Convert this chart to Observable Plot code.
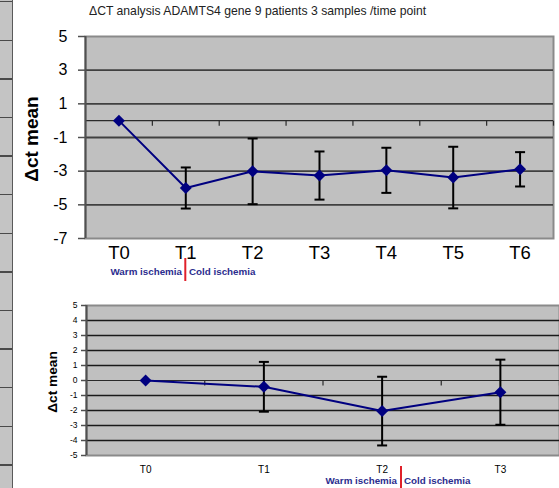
<!DOCTYPE html>
<html>
<head>
<meta charset="utf-8">
<script src="https://cdn.jsdelivr.net/npm/d3@7"></script>
<script src="https://cdn.jsdelivr.net/npm/@observablehq/plot@0.6"></script>
<style>
  html, body { margin: 0; padding: 0; background: #fff; }
  #wrap { position: relative; width: 559px; height: 488px; overflow: hidden; font-family: "Liberation Sans", Arial, sans-serif; }
  #strip { position: absolute; left: 0; top: 0; width: 12px; height: 488px;
    background: repeating-linear-gradient(to bottom, #4a4a4a 0px, #4a4a4a 1.5px, #c4c4c4 1.5px, #c4c4c4 38.6px);
    background-position: 0 1px; border-right: 1.5px solid #5a5a5a; }
  .chart { position: absolute; left: 0; }
  #overlay { position: absolute; left: 0; top: 0; }
</style>
</head>
<body>
<div id="wrap">
  <div id="strip"></div>
</div>
<script>
// ---- data: top chart (7 time points) ----
const catsA   = ["T0", "T1", "T2", "T3", "T4", "T5", "T6"];
const meanA   = [0, -4.0, -3.01, -3.26, -2.95, -3.38, -2.89];
const errA    = [null, 1.22, 1.95, 1.43, 1.34, 1.83, 1.02];
const yTicksA = [5, 3, 1, -1, -3, -5, -7];
const gridA   = [3, 1, -1, -3, -5];

// ---- data: bottom chart (4 time points) ----
const catsB   = ["T0", "T1", "T2", "T3"];
const meanB   = [0, -0.42, -2.04, -0.78];
const errB    = [null, 1.66, 2.29, 2.17];
const yTicksB = [5, 4, 3, 2, 1, 0, -1, -2, -3, -4, -5];
const gridB   = [4, 3, 2, 1, -1, -2, -3, -4];

const titleText = "ΔCT analysis ADAMTS4 gene 9 patients 3 samples /time point";
const yLabel = "Δct mean";
const warmLabel = "Warm ischemia";
const coldLabel = "Cold ischemia";

const vTick = { draw(ctx) { ctx.moveTo(0, 0); ctx.lineTo(0, 5); } };
const hCap  = { draw(ctx) { ctx.moveTo(-5, 0); ctx.lineTo(5, 0); } };

function chart(o) {
  const rows = o.cats.map((c, i) => ({ i, m: o.mean[i], e: o.err[i] }));
  const bars = rows.filter(d => d.e != null);
  const caps = bars.flatMap(d => [{ i: d.i, y: d.m + d.e }, { i: d.i, y: d.m - d.e }]);
  const bounds = o.cats.map((c, i) => i + 0.5);
  return Plot.plot({
    width: 559, height: o.height,
    marginTop: o.mt, marginBottom: o.mb, marginLeft: o.ml, marginRight: o.mr,
    style: { background: "transparent", fontFamily: "Liberation Sans, Arial, sans-serif", color: "#000" },
    x: { type: "linear", domain: [-0.5, o.cats.length - 0.5], axis: null, label: null },
    y: { domain: o.yDomain, axis: null, label: null },
    marks: [
      Plot.frame({ fill: "#c0c0c0", stroke: "#8a8a8a", strokeWidth: 2 }),
      Plot.gridY(o.grid, { stroke: o.gridStroke, strokeOpacity: 1, strokeWidth: o.gridWidth }),
      Plot.ruleY([0], { stroke: "#2a2a2a", strokeWidth: 1.2 }),
      Plot.dot(bounds, { x: d => d, y: 0, symbol: vTick, stroke: "#2a2a2a", strokeWidth: 1.2, fill: "none" }),
      Plot.ruleX([-0.5], { stroke: "#505050", strokeWidth: 2 }),
      Plot.axisY(o.yTicks, { label: null, tickSize: o.yTickSize, tickPadding: o.yPad, fontSize: o.yFont, tickFormat: d => String(d), stroke: "#505050", strokeWidth: 1.5, fill: "#000" }),
      Plot.axisX(o.cats.map((c, i) => i), { label: null, tickSize: 0, tickPadding: o.xPad, fontSize: o.xFont, tickFormat: i => o.cats[i], fill: "#000" }),
      Plot.ruleX(bars, { x: "i", y1: d => d.m - d.e, y2: d => d.m + d.e, stroke: "#000", strokeWidth: 2 }),
      Plot.dot(caps, { x: "i", y: "y", symbol: hCap, stroke: "#000", strokeWidth: 2, fill: "none" }),
      Plot.line(rows, { x: "i", y: "m", stroke: "#000080", strokeWidth: 2 }),
      Plot.dot(rows, { x: "i", y: "m", symbol: "diamond2", fill: "#000080", r: 5.4 })
    ]
  });
}

const wrap = document.getElementById("wrap");

const top1 = chart({
  cats: catsA, mean: meanA, err: errA, yDomain: [-7, 5], yTicks: yTicksA, grid: gridA,
  height: 290, mt: 36, mb: 52, ml: 85, mr: 6,
  yFont: 16, yTickSize: 7, yPad: 11, xFont: 18.5, xPad: 7,
  gridStroke: "#404040", gridWidth: 1.8
});
top1.classList.add("chart");
top1.style.top = "0px";
wrap.appendChild(top1);

const bot = chart({
  cats: catsB, mean: meanB, err: errB, yDomain: [-5, 5], yTicks: yTicksB, grid: gridB,
  height: 198, mt: 15, mb: 33, ml: 86, mr: 0,
  yFont: 8.5, yTickSize: 5, yPad: 4, xFont: 10, xPad: 10,
  gridStroke: "#1a1a1a", gridWidth: 1.5
});
bot.classList.add("chart");
bot.style.top = "290px";
wrap.appendChild(bot);

// text overlays (title, axis titles, ischemia annotations)
const ns = "http://www.w3.org/2000/svg";
const ov = document.createElementNS(ns, "svg");
ov.setAttribute("id", "overlay");
ov.setAttribute("width", 559);
ov.setAttribute("height", 488);
ov.style.fontFamily = "Liberation Sans, Arial, sans-serif";
function addText(str, attrs) {
  const t = document.createElementNS(ns, "text");
  for (const k in attrs) t.setAttribute(k, attrs[k]);
  t.textContent = str;
  ov.appendChild(t);
}
function addLine(attrs) {
  const l = document.createElementNS(ns, "line");
  for (const k in attrs) l.setAttribute(k, attrs[k]);
  ov.appendChild(l);
}
addText(titleText, { x: 89, y: 15, "font-size": 12.2, fill: "#222" });
addText(yLabel, { transform: "translate(38,139) rotate(-90)", "text-anchor": "middle", "font-size": 19, "font-weight": "bold", fill: "#000" });
addText(yLabel, { transform: "translate(57,382) rotate(-90)", "text-anchor": "middle", "font-size": 13.7, "font-weight": "bold", fill: "#000" });

const annColor = "#2b2d8e";
addText(warmLabel, { x: 182, y: 275, "text-anchor": "end", "font-size": 9.8, "font-weight": "bold", fill: annColor });
addText(coldLabel, { x: 189, y: 275, "font-size": 9.8, "font-weight": "bold", fill: annColor });
addLine({ x1: 185.3, x2: 185.3, y1: 258, y2: 281, stroke: "#e0202a", "stroke-width": 2 });

addText(warmLabel, { x: 397, y: 484, "text-anchor": "end", "font-size": 9.8, "font-weight": "bold", fill: annColor });
addText(coldLabel, { x: 404, y: 484, "font-size": 9.8, "font-weight": "bold", fill: annColor });
addLine({ x1: 401, x2: 401, y1: 466, y2: 488, stroke: "#e0202a", "stroke-width": 2 });

wrap.appendChild(ov);
</script>
</body>
</html>
